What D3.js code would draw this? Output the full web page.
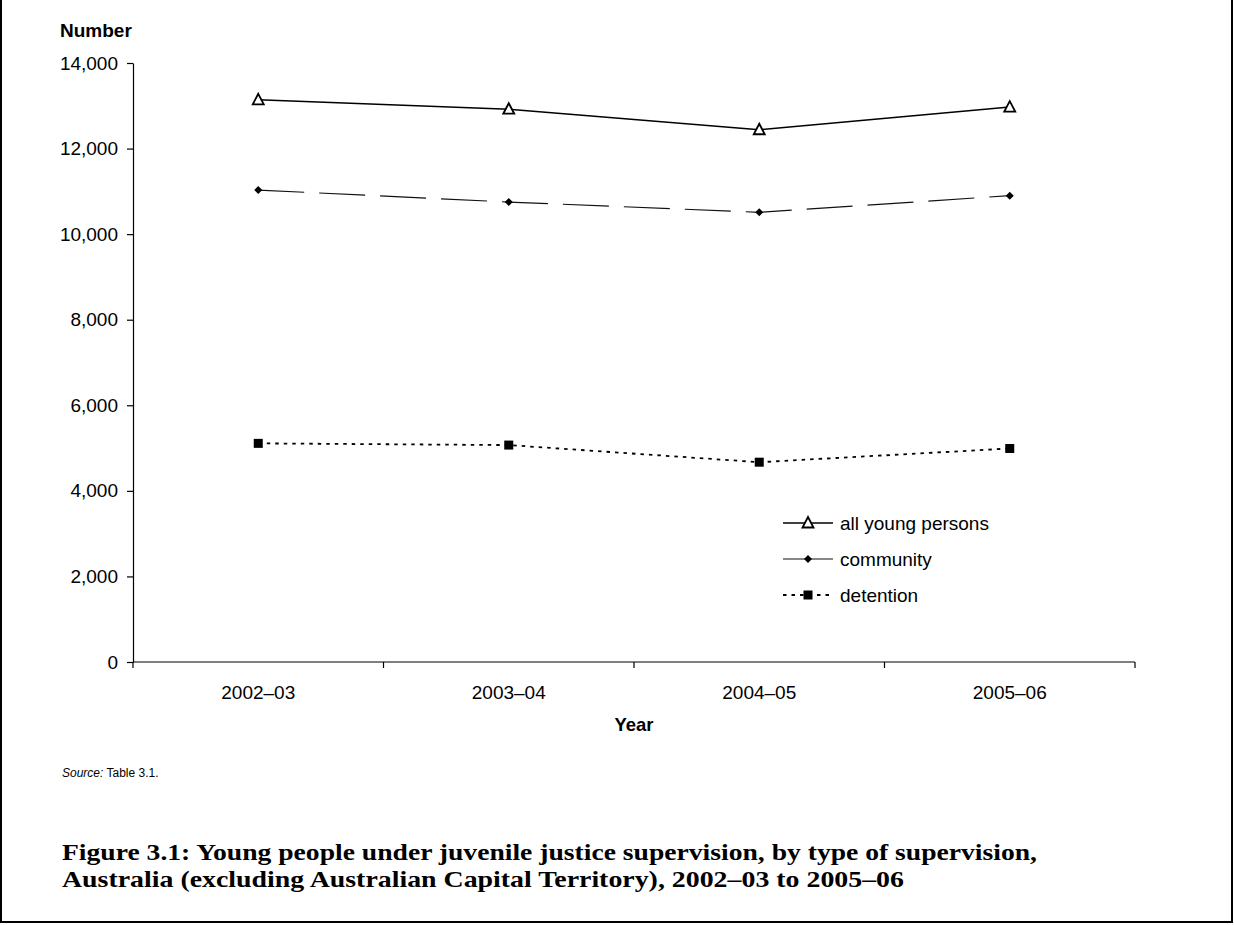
<!DOCTYPE html>
<html>
<head>
<meta charset="utf-8">
<script src="https://cdn.jsdelivr.net/npm/d3@7"></script>
<style>
  html, body { margin: 0; padding: 0; background: #fff; }
  svg { display: block; }
  text { font-family: "Liberation Sans", Arial, sans-serif; fill: #000; }
</style>
</head>
<body>
<svg id="chart" width="1234" height="925"></svg>
<script>
// Young people under juvenile justice supervision, by type of supervision
const categories = ["2002\u201303", "2003\u201304", "2004\u201305", "2005\u201306"];
const allYoungPersons = [13140, 12920, 12440, 12970];
const community = [11030, 10750, 10510, 10900];
const detention = [5110, 5070, 4670, 4990];
const yTicks = [0, 2000, 4000, 6000, 8000, 10000, 12000, 14000];
const seriesNames = ["all young persons", "community", "detention"];

const svg = d3.select("#chart");

// Plot area
const plotLeft = 133, plotRight = 1135, plotTop = 63, plotBottom = 662;

const x = d3.scaleBand().domain(categories).range([plotLeft, plotRight]).padding(0);
const y = d3.scaleLinear().domain([0, 14000]).range([plotBottom, plotTop]);
const cx = d => x(d) + x.bandwidth() / 2;

// Figure frame
svg.append("path")
  .attr("d", "M1,-5 V922 H1232 V-5")
  .attr("fill", "none").attr("stroke", "#000").attr("stroke-width", 2);

// Y axis
const yAxis = svg.append("g")
  .attr("transform", `translate(${plotLeft},0)`)
  .call(d3.axisLeft(y).tickValues(yTicks).tickSize(6).tickPadding(9).tickSizeOuter(0)
    .tickFormat(d3.format(",")));
yAxis.selectAll("text").style("font-size", "19px").attr("font-family", "Liberation Sans");
yAxis.selectAll("line, path").attr("stroke", "#000").attr("stroke-width", 1.2);

// X axis: domain line, boundary ticks, centred category labels
const xAxis = svg.append("g").attr("transform", `translate(0,${plotBottom})`);
xAxis.append("line").attr("x1", plotLeft).attr("x2", plotRight)
  .attr("stroke", "#000").attr("stroke-width", 1.2);
const bounds = categories.map(d => x(d)).concat([plotRight]);
xAxis.selectAll("line.tick").data(bounds).join("line")
  .attr("class", "tick")
  .attr("x1", d => d).attr("x2", d => d).attr("y1", 0).attr("y2", 6)
  .attr("stroke", "#000").attr("stroke-width", 1.2);
xAxis.selectAll("text.cat").data(categories).join("text")
  .attr("class", "cat")
  .attr("x", d => cx(d)).attr("y", 37)
  .attr("text-anchor", "middle").style("font-size", "19px")
  .text(d => d);

// Axis titles
svg.append("text").attr("x", 60).attr("y", 37)
  .style("font-size", "19px").style("font-weight", "bold").text("Number");
svg.append("text").attr("x", (plotLeft + plotRight) / 2).attr("y", 731)
  .attr("text-anchor", "middle")
  .style("font-size", "18.5px").style("font-weight", "bold").text("Year");

// Series lines
const line = d3.line().x((d, i) => cx(categories[i])).y(d => y(d));

svg.append("path").datum(allYoungPersons).attr("d", line)
  .attr("fill", "none").attr("stroke", "#000").attr("stroke-width", 1.6);
svg.append("path").datum(community).attr("d", line)
  .attr("fill", "none").attr("stroke", "#111").attr("stroke-width", 1.2)
  .attr("stroke-dasharray", "46,15");
svg.append("path").datum(detention).attr("d", line)
  .attr("fill", "none").attr("stroke", "#000").attr("stroke-width", 1.8)
  .attr("stroke-dasharray", "3.5,5");

// Marker shapes
function triangle(g, px, py) {
  g.append("path")
    .attr("d", `M${px},${py - 6} L${px + 5.5},${py + 4.5} L${px - 5.5},${py + 4.5} Z`)
    .attr("fill", "#fff").attr("stroke", "#000").attr("stroke-width", 1.8);
}
function diamond(g, px, py) {
  g.append("path")
    .attr("d", `M${px},${py - 4} L${px + 4},${py} L${px},${py + 4} L${px - 4},${py} Z`)
    .attr("fill", "#000");
}
function square(g, px, py) {
  g.append("rect").attr("x", px - 4.5).attr("y", py - 4.5)
    .attr("width", 9).attr("height", 9).attr("fill", "#000");
}

const markers = svg.append("g");
allYoungPersons.forEach((v, i) => triangle(markers, cx(categories[i]), y(v)));
community.forEach((v, i) => diamond(markers, cx(categories[i]), y(v)));
detention.forEach((v, i) => square(markers, cx(categories[i]), y(v)));

// Legend
const legend = svg.append("g");
const legendRows = [523, 559, 595];
const lx1 = 783, lx2 = 833, lm = 808;
legend.append("line").attr("x1", lx1).attr("x2", lx2).attr("y1", legendRows[0]).attr("y2", legendRows[0])
  .attr("stroke", "#000").attr("stroke-width", 1.6);
triangle(legend, lm, legendRows[0]);
legend.append("line").attr("x1", lx1).attr("x2", lx2).attr("y1", legendRows[1]).attr("y2", legendRows[1])
  .attr("stroke", "#111").attr("stroke-width", 1.2);
diamond(legend, lm, legendRows[1]);
legend.append("line").attr("x1", lx1).attr("x2", lx2).attr("y1", legendRows[2]).attr("y2", legendRows[2])
  .attr("stroke", "#000").attr("stroke-width", 1.8).attr("stroke-dasharray", "3.5,5");
square(legend, lm, legendRows[2]);
legend.selectAll("text").data(seriesNames).join("text")
  .attr("x", 840).attr("y", (d, i) => legendRows[i] + 7)
  .style("font-size", "19px").text(d => d);

// Source note
const src = svg.append("text").attr("x", 62).attr("y", 777).style("font-size", "12px");
src.append("tspan").style("font-style", "italic").text("Source:");
src.append("tspan").text(" Table 3.1.");

// Figure caption, set in a wide bold serif
const captionLines = [
  "Figure 3.1: Young people under juvenile justice supervision, by type of supervision,",
  "Australia (excluding Australian Capital Territory), 2002\u201303 to 2005\u201306"
];
const captionWidths = [975, 842];
svg.append("g").selectAll("text").data(captionLines).join("text")
  .attr("x", 62).attr("y", (d, i) => 860 + i * 27)
  .attr("textLength", (d, i) => captionWidths[i])
  .attr("lengthAdjust", "spacingAndGlyphs")
  .style("font-family", "'Liberation Serif', 'DejaVu Serif', serif")
  .style("font-weight", "bold").style("font-size", "23px")
  .text(d => d);
</script>
</body>
</html>
